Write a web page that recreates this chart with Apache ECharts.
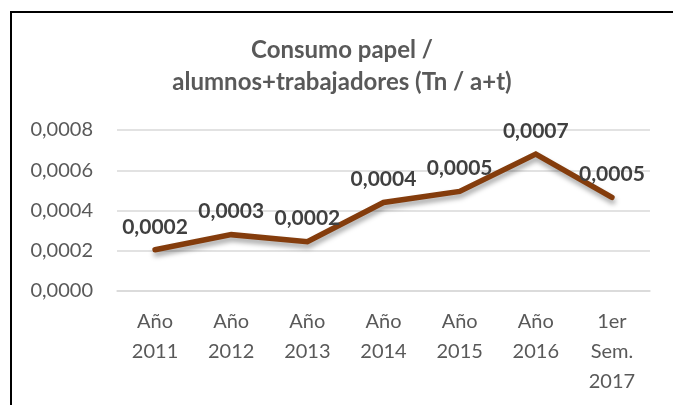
<!DOCTYPE html>
<html>
<head>
<meta charset="utf-8">
<script src="https://cdn.jsdelivr.net/npm/echarts@6/dist/echarts.min.js"></script>
<style>
html,body{margin:0;padding:0;background:#fff;}
#chart{width:673px;height:405px;}
</style>
</head>
<body>
<div id="chart"></div>
<script>
var titleText = 'Consumo papel /\nalumnos+trabajadores (Tn / a+t)';
var categories = ['Año\n2011', 'Año\n2012', 'Año\n2013', 'Año\n2014', 'Año\n2015', 'Año\n2016', '1er\nSem.\n2017'];
var values = [0.000205, 0.00028, 0.000245, 0.00044, 0.000495, 0.00068, 0.000465];
var yMin = 0, yMax = 0.0008, yInterval = 0.0002;

function fmt(v){ return v.toFixed(4).replace('.', ','); }

var chart = echarts.init(document.getElementById('chart'), null, {renderer:'canvas'});
chart.setOption({
  animation: false,
  backgroundColor: '#fff',
  graphic: [{
    type: 'rect',
    shape: {x: 11, y: 12, width: 700, height: 500},
    style: {fill: 'none', stroke: '#000', lineWidth: 2},
    silent: true
  }],
  title: {
    text: titleText,
    left: 342,
    top: 34,
    padding: 0,
    textAlign: 'center',
    textStyle: {
      fontFamily: 'Lato',
      fontWeight: 'bold',
      fontSize: 24,
      lineHeight: 32,
      color: '#595959'
    }
  },
  grid: {left: 117, right: 23, top: 130, bottom: 114, containLabel: false},
  xAxis: {
    type: 'category',
    data: categories,
    boundaryGap: true,
    axisLine: {show: true, lineStyle: {color: '#d9d9d9', width: 1.5}},
    axisTick: {show: false},
    axisLabel: {
      fontFamily: 'Lato',
      fontSize: 20,
      lineHeight: 30,
      color: '#595959',
      margin: 16,
      interval: 0
    }
  },
  yAxis: {
    type: 'value',
    min: yMin,
    max: yMax,
    interval: yInterval,
    axisLine: {show: false},
    axisTick: {show: false},
    splitLine: {lineStyle: {color: '#d9d9d9', width: 1.5}},
    axisLabel: {
      fontFamily: 'Lato',
      fontSize: 20,
      color: '#595959',
      margin: 24,
      formatter: function(v){ return fmt(v); }
    }
  },
  series: [{
    type: 'line',
    data: values,
    symbol: 'circle',
    showSymbol: true,
    symbolSize: 1,
    itemStyle: {color: 'rgba(0,0,0,0)'},
    lineStyle: {
      color: '#843C0C',
      width: 5.5,
      cap: 'round',
      join: 'miter',
      shadowColor: 'rgba(0,0,0,0.35)',
      shadowBlur: 5,
      shadowOffsetX: 1,
      shadowOffsetY: 4
    },
    label: {
      show: true,
      position: 'top',
      distance: 12,
      fontFamily: 'Lato',
      fontWeight: 'bold',
      fontSize: 21,
      color: '#404040',
      formatter: function(p){ return fmt(p.value); }
    }
  }]
});
</script>
</body>
</html>
